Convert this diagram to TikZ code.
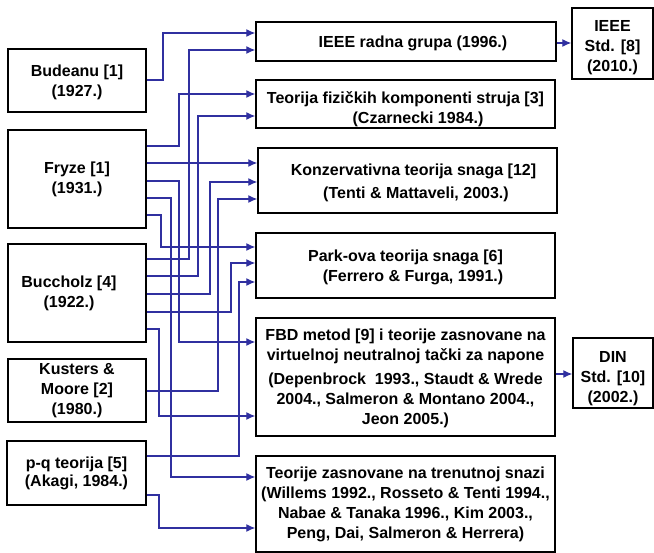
\documentclass[tikz,border=0pt]{standalone}
\usepackage{fontspec}
\setmainfont{Liberation Sans}
\usetikzlibrary{arrows.meta}
\definecolor{linkblue}{RGB}{48,48,160}

\begin{document}
\begin{tikzpicture}[x=1pt, y=-1pt,
    box/.style={draw, line width=1.4pt, align=center, inner sep=0pt,
        font=\bfseries\fontsize{16}{20}\selectfont},
    link/.style={draw=linkblue, line width=1.25pt, -{Latex[length=9pt,width=8pt]}}]
        \useasboundingbox (0,0) rectangle (654,553);

        \node[box, minimum width=138pt, minimum height=63pt] (bud) at (77,80.5) {\rule{0pt}{16pt}Budeanu [1]\\(1927.)};
        \node[box, minimum width=138pt, minimum height=98pt] (fry) at (77,179) {Fryze [1]\\(1931.)};
        \node[box, minimum width=138pt, minimum height=98pt] (buc) at (77,293)
            {Buccholz [4]\hspace*{16pt}\\(1922.)\hspace*{16pt}};
        \node[box, minimum width=138pt, minimum height=63pt] (kus) at (77,390.5) {Kusters \&\\Moore [2]\\(1980.)};
        \node[box, minimum width=139pt, minimum height=64pt] (pq) at (76.5,473) {p-q teorija [5]\\[-2pt](Akagi, 1984.)};

        \node[box, minimum width=300pt, minimum height=39pt] (ieee) at (406,41.5)
            {\hspace*{14pt}\rule{0pt}{15pt}IEEE radna grupa (1996.)};
        \node[box, minimum width=299pt, minimum height=48pt] (tfk) at (405.5,104)
            {\rule{0pt}{22pt}Teorija fizičkih komponenti struja [3]\\\hspace*{25pt}(Czarnecki 1984.)};
        \node[box, minimum width=299pt, minimum height=65pt] (konz) at (407.5,180.5)
            {\rule{0pt}{16pt}\hspace*{12pt}Konzervativna teorija snaga [12]\\[3pt]\hspace*{17pt}(Tenti \& Mattaveli, 2003.)};
        \node[box, minimum width=299pt, minimum height=65pt] (park) at (405.5,265.5)
            {\rule{0pt}{15pt}Park-ova teorija snaga [6]\\\hspace*{15pt}(Ferrero \& Furga, 1991.)};
        \node[box, minimum width=299pt, minimum height=118pt] (fbd) at (405.5,377)
            {\rule{0pt}{15pt}FBD metod [9] i teorije zasnovane na\\virtuelnoj neutralnoj tački za napone\\[4pt]
             (Depenbrock~ 1993., Staudt \& Wrede\\2004., Salmeron \& Montano 2004.,\\Jeon 2005.)};
        \node[box, minimum width=299pt, minimum height=96pt] (tren) at (405.5,504)
            {Teorije zasnovane na trenutnoj snazi\\(Willems 1992., Rosseto \& Tenti 1994.,\\
             Nabae \& Tanaka 1996., Kim 2003.,\\Peng, Dai, Salmeron \& Herrera)};
        \node[box, minimum width=81pt, minimum height=71pt] (std) at (612.5,43.5) {\rule{0pt}{20pt}IEEE\\Std. [8]\\(2010.)};
        \node[box, minimum width=80pt, minimum height=70pt] (din) at (613,373) {\rule{0pt}{22pt}DIN\\Std. [10]\\(2002.)};

        \draw[link] (bud.east |- 0,80) -- (163,80) |- (ieee.west |- 0,33);
        \draw[link] (buc.east |- 0,259) -- (189,259) |- (ieee.west |- 0,50);
        \draw[link] (fry.east |- 0,146) -- (179,146) |- (tfk.west |- 0,94);
        \draw[link] (buc.east |- 0,276) -- (198,276) |- (tfk.west |- 0,116);
        \draw[link] (fry.east |- 0,163) -- (konz.west |- 0,163);
        \draw[link] (buc.east |- 0,294) -- (210,294) |- (konz.west |- 0,182);
        \draw[link] (kus.east |- 0,391) -- (218,391) |- (konz.west |- 0,199);
        \draw[link] (fry.east |- 0,215) -- (161,215) |- (park.west |- 0,247);
        \draw[link] (buc.east |- 0,312) -- (231,312) |- (park.west |- 0,263);
        \draw[link] (pq.east |- 0,456) -- (239,456) |- (park.west |- 0,282);
        \draw[link] (fry.east |- 0,181) -- (179,181) |- (fbd.west |- 0,342);
        \draw[link] (buc.east |- 0,329) -- (159,329) |- (fbd.west |- 0,416);
        \draw[link] (fry.east |- 0,198) -- (171,198) |- (tren.west |- 0,477);
        \draw[link] (pq.east |- 0,495) -- (159,495) |- (tren.west |- 0,528);
        \draw[link] (ieee.east |- 0,43) -- (std.west |- 0,43);
        \draw[link] (fbd.east |- 0,374) -- (din.west |- 0,374);
    \end{tikzpicture}
\end{document}
